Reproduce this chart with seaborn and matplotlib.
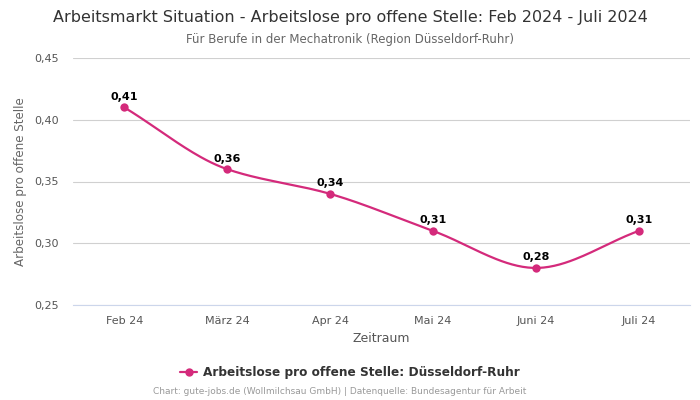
import numpy as np
import pandas as pd
import matplotlib
matplotlib.use("Agg")
import matplotlib.pyplot as plt
import seaborn as sns
from matplotlib.ticker import FuncFormatter, FixedLocator
from matplotlib.lines import Line2D

categories = ["Feb 24", "März 24", "Apr 24", "Mai 24", "Juni 24", "Juli 24"]
values = [0.41, 0.36, 0.34, 0.31, 0.28, 0.31]
series_name = "Arbeitslose pro offene Stelle: Düsseldorf-Ruhr"
y_ticks = [0.25, 0.30, 0.35, 0.40, 0.45]

title = "Arbeitsmarkt Situation - Arbeitslose pro offene Stelle: Feb 2024 - Juli 2024"
subtitle = "Für Berufe in der Mechatronik (Region Düsseldorf-Ruhr)"
credit = "Chart: gute-jobs.de (Wollmilchsau GmbH) | Datenquelle: Bundesagentur für Arbeit"

color = "#d42a7b"

sns.set_theme(style="white")
plt.rcParams['font.family'] = ['DejaVu Sans']

df = pd.DataFrame({"Zeitraum": categories, "Wert": values})
df["pos"] = np.arange(len(df))


def monotone_curve(x, y, n=40):
    x = np.asarray(x, float)
    y = np.asarray(y, float)
    h = np.diff(x)
    d = np.diff(y) / h
    m = np.zeros_like(y)
    m[0], m[-1] = d[0], d[-1]
    for i in range(1, len(y) - 1):
        if d[i - 1] * d[i] <= 0:
            m[i] = 0
        else:
            w1 = 2 * h[i] + h[i - 1]
            w2 = h[i] + 2 * h[i - 1]
            m[i] = (w1 + w2) / (w1 / d[i - 1] + w2 / d[i])
    xs, ys = [], []
    for i in range(len(x) - 1):
        t = np.linspace(0, 1, n)
        h00 = 2 * t**3 - 3 * t**2 + 1
        h10 = t**3 - 2 * t**2 + t
        h01 = -2 * t**3 + 3 * t**2
        h11 = t**3 - t**2
        xs.append(x[i] + t * h[i])
        ys.append(h00 * y[i] + h10 * h[i] * m[i] + h01 * y[i + 1] + h11 * h[i] * m[i + 1])
    return np.concatenate(xs), np.concatenate(ys)


fig = plt.figure(figsize=(7, 4), dpi=100)
ax = fig.add_axes([0.104, 0.2375, 0.882, 0.6175])

cx, cy = monotone_curve(df["pos"], df["Wert"])
sns.lineplot(x=cx, y=cy, ax=ax, color=color, linewidth=1.6, sort=False)
sns.scatterplot(data=df, x="pos", y="Wert", ax=ax, color=color, s=36,
                edgecolor=color, linewidth=0, zorder=5)

for xp, v in zip(df["pos"], df["Wert"]):
    ax.annotate(f"{v:.2f}".replace(".", ","), (xp, v), xytext=(0, 4),
                textcoords="offset points", ha="center", va="bottom",
                fontsize=8, fontweight="bold", color="black")

ax.set_xlim(-0.5, len(categories) - 0.5)
ax.set_ylim(0.25, 0.45)
ax.xaxis.set_major_locator(FixedLocator(df["pos"].tolist()))
ax.set_xticklabels(categories)
ax.yaxis.set_major_locator(FixedLocator(y_ticks))
ax.yaxis.set_major_formatter(FuncFormatter(lambda v, p: f"{v:.2f}".replace(".", ",")))
ax.tick_params(axis="both", length=0, labelsize=8, labelcolor="#555555")
ax.tick_params(axis="x", pad=8)
ax.tick_params(axis="y", pad=10)
ax.grid(axis="y", color="#d0d0d0", linewidth=0.8)
ax.set_axisbelow(True)
for s in ["left", "right", "top"]:
    ax.spines[s].set_visible(False)
ax.spines["bottom"].set_color("#ccd6eb")
ax.spines["bottom"].set_linewidth(0.8)

ax.set_xlabel("Zeitraum", fontsize=9, color="#555555", labelpad=4)
ax.set_ylabel("Arbeitslose pro offene Stelle", fontsize=8.6, color="#666666", labelpad=5)

fig.text(0.5, 0.957, title, ha="center", va="center", fontsize=11.5, color="#333333")
fig.text(0.5, 0.902, subtitle, ha="center", va="center", fontsize=8.5, color="#666666")

handle = Line2D([0], [0], color=color, marker="o", markersize=5, linewidth=1.6)
fig.legend([handle], [series_name], loc="center", bbox_to_anchor=(0.5, 0.068),
           frameon=False, prop={"size": 8.7, "weight": "bold"}, labelcolor="#333333",
           handlelength=1.4, handletextpad=0.5)

fig.text(340 / 700, 0.02, credit, ha="center", va="center", fontsize=6.5, color="#999999")

fig.savefig("out.png", dpi=100)
